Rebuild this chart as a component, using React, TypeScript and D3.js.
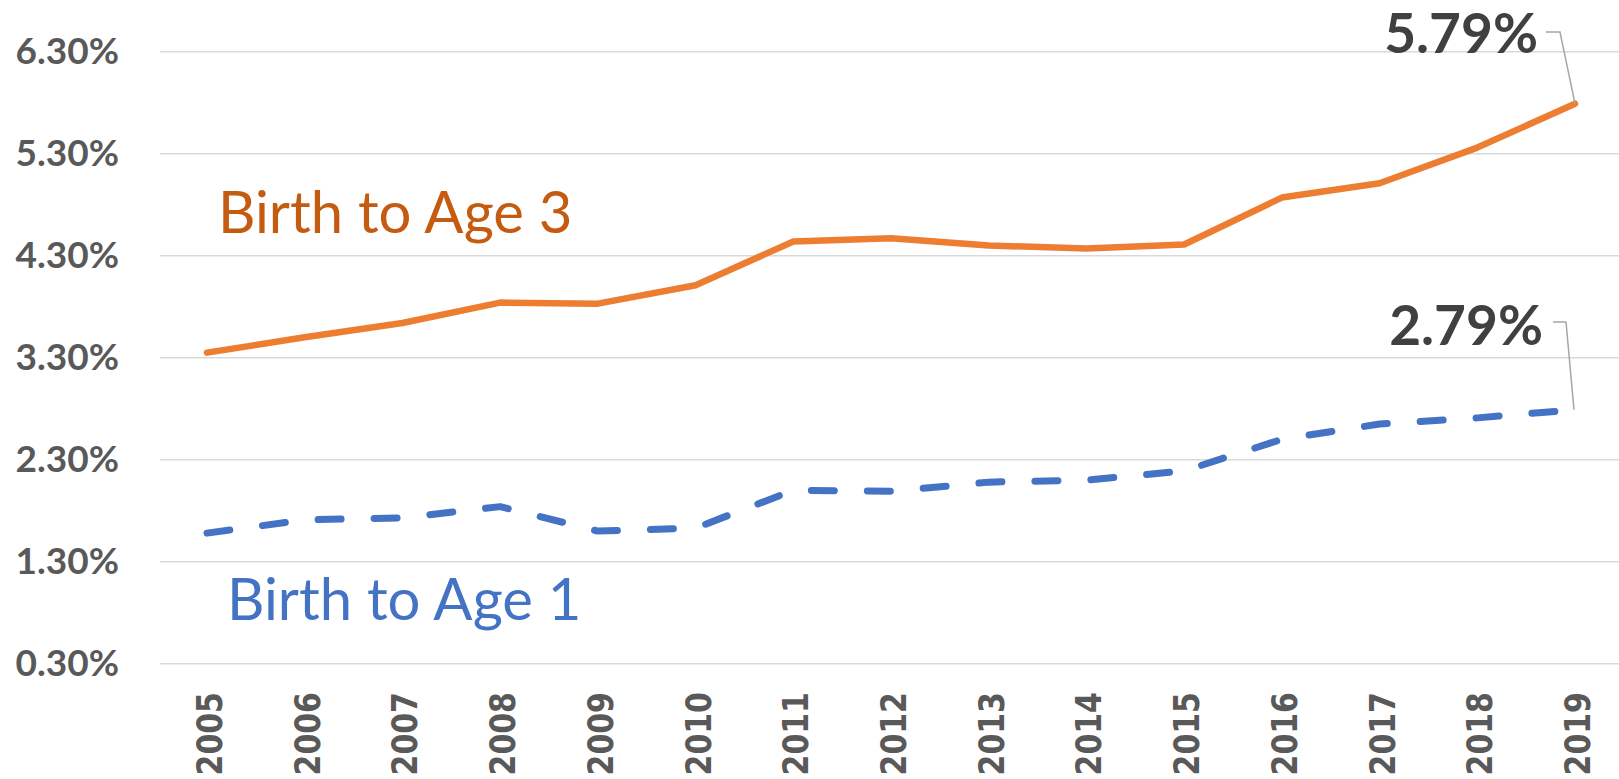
import * as d3 from "d3";

const WIDTH = 1619;
const HEIGHT = 779;

const years = ["2005", "2006", "2007", "2008", "2009", "2010", "2011", "2012", "2013", "2014", "2015", "2016", "2017", "2018", "2019"];
const birthToAge3 = [3.35, 3.5, 3.64, 3.84, 3.83, 4.01, 4.44, 4.47, 4.4, 4.37, 4.41, 4.87, 5.01, 5.36, 5.79];
const birthToAge1 = [1.58, 1.71, 1.73, 1.84, 1.6, 1.63, 2.0, 1.99, 2.08, 2.1, 2.19, 2.5, 2.65, 2.71, 2.79];
const yTicks = [0.3, 1.3, 2.3, 3.3, 4.3, 5.3, 6.3];

const ORANGE = "#ED7D31";
const BLUE = "#4472C4";

export default function App() {
  // Scales
  const xScale = d3.scalePoint<string>().domain(years).range([207, 1575]);
  const yScale = d3.scaleLinear().domain([0.3, 6.3]).range([663.7, 51.7]);

  const line = d3
    .line<number>()
    .x((_, i) => xScale(years[i]) as number)
    .y((d) => yScale(d));

  const lastX = xScale(years[years.length - 1]) as number;
  const last3 = yScale(birthToAge3[birthToAge3.length - 1]);
  const last1 = yScale(birthToAge1[birthToAge1.length - 1]);

  return (
    <svg
      width={WIDTH}
      height={HEIGHT}
      style={{ position: "absolute", left: 0, top: 0, background: "#fff" }}
    >
      {/* gridlines + y labels */}
      {yTicks.map((t) => (
        <g key={t}>
          <line x1={160} x2={WIDTH} y1={yScale(t)} y2={yScale(t)} stroke="#d9d9d9" strokeWidth={1.5} />
          <text
            x={119}
            y={yScale(t) + 12.5}
            textAnchor="end"
            fontFamily="Lato"
            fontWeight="bold"
            fontSize={37}
            fill="#595959"
          >
            {t.toFixed(2) + "%"}
          </text>
        </g>
      ))}

      {/* x labels, slightly stretched to match the chunky originals */}
      {years.map((y) => (
        <text
          key={y}
          transform={`translate(${(xScale(y) as number) + 2},692) rotate(-90) scale(1,1.2)`}
          textAnchor="end"
          dy="0.36em"
          fontFamily="DejaVu Sans"
          fontWeight="bold"
          fontSize={30}
          fill="#595959"
        >
          {y}
        </text>
      ))}

      <path d={line(birthToAge3) ?? ""} fill="none" stroke={ORANGE} strokeWidth={6.5} strokeLinecap="round" strokeLinejoin="round" />
      <path
        d={line(birthToAge1) ?? ""}
        fill="none"
        stroke={BLUE}
        strokeWidth={7}
        strokeLinecap="round"
        strokeLinejoin="round"
        strokeDasharray="23 33"
      />

      {/* series labels */}
      <text x={218} y={233} fontFamily="Lato" fontSize={58} fill="#C55A11">
        Birth to Age 3
      </text>
      <text x={227} y={620} fontFamily="Lato" fontSize={58} fill={BLUE}>
        Birth to Age 1
      </text>

      {/* end annotations */}
      <polyline
        points={`${lastX - 29},32 ${lastX - 15},32 ${lastX},${last3}`}
        fill="none"
        stroke="#a6a6a6"
        strokeWidth={1.5}
      />
      <text x={1538} y={53} textAnchor="end" fontFamily="Lato" fontWeight="bold" fontSize={55} fill="#404040">
        5.79%
      </text>
      <polyline
        points={`${lastX - 22},322 ${lastX - 9},322 ${lastX - 1},${last1}`}
        fill="none"
        stroke="#a6a6a6"
        strokeWidth={1.5}
      />
      <text x={1543} y={345} textAnchor="end" fontFamily="Lato" fontWeight="bold" fontSize={55} fill="#404040">
        2.79%
      </text>
    </svg>
  );
}
